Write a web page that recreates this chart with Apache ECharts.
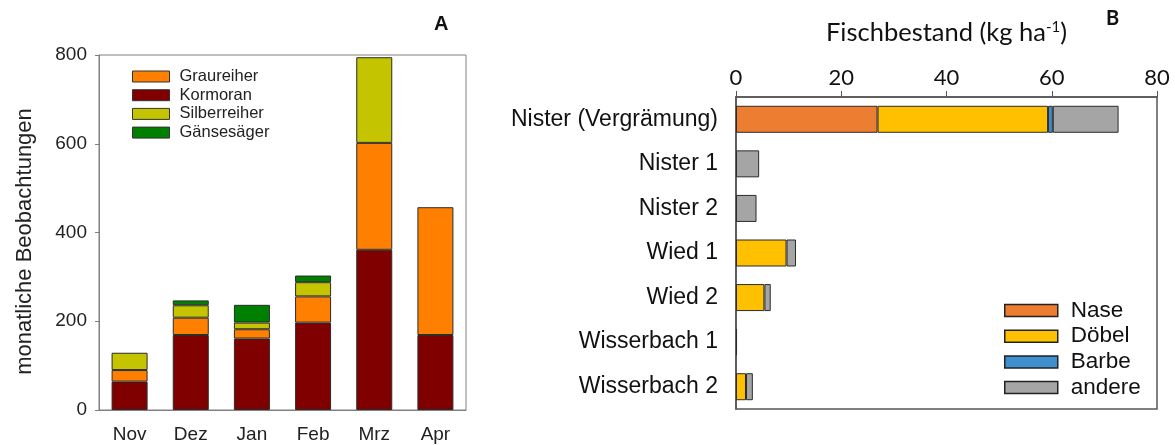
<!DOCTYPE html>
<html>
<head>
<meta charset="utf-8">
<script src="https://cdn.jsdelivr.net/npm/echarts@6/dist/echarts.min.js"></script>
<style>html,body{margin:0;padding:0;background:#fff;}#c{width:1175px;height:445px;}</style>
</head>
<body>
<div id="c"></div>
<script>
// Panel A data
const monthsA = ['Nov', 'Dez', 'Jan', 'Feb', 'Mrz', 'Apr'];
const kormoran = [64, 169, 161, 197, 361, 169];
const graureiher = [26, 39, 21, 59, 241, 288];
const silberreiher = [39, 28, 15, 32, 193, null];
const gaensesaeger = [null, 11, 40, 15, null, null];
const yTicksA = [0, 200, 400, 600, 800];

// Panel B data
const sitesB = ['Nister (Vergrämung)', 'Nister 1', 'Nister 2', 'Wied 1', 'Wied 2', 'Wisserbach 1', 'Wisserbach 2'];
const nase = [26.9, null, null, null, null, null, null];
const doebel = [32.4, null, null, 9.6, 5.4, null, 1.9];
const barbe = [0.9, null, null, null, null, null, null];
const andere = [12.5, 4.4, 3.9, 1.8, 1.2, 0.2, 1.3];
const xTicksB = [0, 20, 40, 60, 80];

const ARIAL = "'Liberation Sans', Arial, sans-serif";
const CAL = "Lato, sans-serif";
const edge = {borderColor: '#2b2b2b', borderWidth: 1};

const chart = echarts.init(document.getElementById('c'), null, {renderer: 'canvas'});
const option = {
  animation: false,
  backgroundColor: '#fff',
  grid: [
    {left: 99, top: 55, width: 367, height: 355, show: true, borderColor: '#808080', borderWidth: 1, backgroundColor: 'transparent'},
    {left: 736, top: 97, width: 421, height: 312, show: true, borderColor: '#555', borderWidth: 1.5, backgroundColor: 'transparent'}
  ],
  legend: [
    {
      data: ['Graureiher', 'Kormoran', 'Silberreiher', 'Gänsesäger'],
      orient: 'vertical', left: 132, top: 68, padding: 0,
      itemWidth: 37, itemHeight: 11, itemGap: 1.7, icon: 'rect',
      itemStyle: {borderColor: '#333', borderWidth: 1},
      textStyle: {fontFamily: ARIAL, fontSize: 16.5, lineHeight: 17, color: '#222', padding: [0, 0, 0, 5]},
      selectedMode: false
    },
    {
      data: ['Nase', 'Döbel', 'Barbe', 'andere'],
      orient: 'vertical', left: 1004, top: 299, padding: 0,
      itemWidth: 53, itemHeight: 12, itemGap: 2.7, icon: 'rect',
      itemStyle: {borderColor: '#222', borderWidth: 1.5},
      textStyle: {fontFamily: ARIAL, fontSize: 22.5, lineHeight: 23, color: '#111', padding: [0, 0, 0, 8]},
      selectedMode: false
    }
  ],
  xAxis: [
    {
      type: 'category', gridIndex: 0, data: monthsA,
      axisLine: {lineStyle: {color: '#808080', width: 1}},
      axisTick: {alignWithLabel: true, length: 5, lineStyle: {color: '#808080'}},
      axisLabel: {fontFamily: ARIAL, fontSize: 19, color: '#222', margin: 15}
    },
    {
      type: 'value', gridIndex: 1, position: 'top', min: xTicksB[0], max: xTicksB[xTicksB.length - 1], interval: 20,
      splitLine: {show: false},
      axisLine: {show: true, lineStyle: {color: '#555', width: 1.5}},
      axisTick: {show: true, length: 6, lineStyle: {color: '#555'}},
      axisLabel: {fontFamily: CAL, fontSize: 22, color: '#111', margin: 8},
      name: '{a|Fischbestand (kg ha}{s|-1}{a|)}',
      nameLocation: 'middle', nameGap: 51,
      nameTextStyle: {
        rich: {
          a: {fontFamily: CAL, fontSize: 25.5, color: '#111'},
          s: {fontFamily: CAL, fontSize: 15, color: '#111', verticalAlign: 'top', padding: [0, 0, 11, 0]}
        }
      }
    }
  ],
  yAxis: [
    {
      type: 'value', gridIndex: 0, min: yTicksA[0], max: yTicksA[yTicksA.length - 1], interval: 200,
      splitLine: {show: false},
      axisLine: {show: true, lineStyle: {color: '#808080', width: 1}},
      axisTick: {show: true, length: 4, lineStyle: {color: '#808080'}},
      axisLabel: {fontFamily: ARIAL, fontSize: 19, color: '#222', margin: 12},
      name: 'monatliche Beobachtungen', nameLocation: 'middle', nameRotate: 90, nameGap: 63,
      nameTextStyle: {fontFamily: ARIAL, fontSize: 22, color: '#222', padding: [0, 18, 0, 0]}
    },
    {
      type: 'category', gridIndex: 1, data: sitesB, inverse: true,
      axisLine: {lineStyle: {color: '#555', width: 1.5}},
      axisTick: {alignWithLabel: true, length: 6, lineStyle: {color: '#555'}},
      axisLabel: {fontFamily: ARIAL, fontSize: 23, color: '#111', margin: 18}
    }
  ],
  series: [
    {name: 'Kormoran', type: 'bar', stack: 'a', xAxisIndex: 0, yAxisIndex: 0, barWidth: 36, data: kormoran, itemStyle: Object.assign({color: '#800000'}, edge)},
    {name: 'Graureiher', type: 'bar', stack: 'a', xAxisIndex: 0, yAxisIndex: 0, barWidth: 36, data: graureiher, itemStyle: Object.assign({color: '#FF8000'}, edge)},
    {name: 'Silberreiher', type: 'bar', stack: 'a', xAxisIndex: 0, yAxisIndex: 0, barWidth: 36, data: silberreiher, itemStyle: Object.assign({color: '#C4C400'}, edge)},
    {name: 'Gänsesäger', type: 'bar', stack: 'a', xAxisIndex: 0, yAxisIndex: 0, barWidth: 36, data: gaensesaeger, itemStyle: Object.assign({color: '#008000'}, edge)},
    {name: 'Nase', type: 'bar', stack: 'b', xAxisIndex: 1, yAxisIndex: 1, barWidth: 27, data: nase, itemStyle: Object.assign({color: '#ED7D31'}, edge)},
    {name: 'Döbel', type: 'bar', stack: 'b', xAxisIndex: 1, yAxisIndex: 1, barWidth: 27, data: doebel, itemStyle: Object.assign({color: '#FFC000'}, edge)},
    {name: 'Barbe', type: 'bar', stack: 'b', xAxisIndex: 1, yAxisIndex: 1, barWidth: 27, data: barbe, itemStyle: Object.assign({color: '#3F8FCE'}, edge)},
    {name: 'andere', type: 'bar', stack: 'b', xAxisIndex: 1, yAxisIndex: 1, barWidth: 27, data: andere, itemStyle: Object.assign({color: '#A5A5A5'}, edge)}
  ],
  graphic: [
    {type: 'text', left: 434, top: 14, style: {text: 'A', font: "bold 20px 'Liberation Sans', Arial, sans-serif", fill: '#111'}},
    {type: 'text', left: 1106, top: 9, style: {text: 'B', font: 'bold 20px Lato, sans-serif', fill: '#111'}}
  ]
};
chart.setOption(option);
</script>
</body>
</html>
